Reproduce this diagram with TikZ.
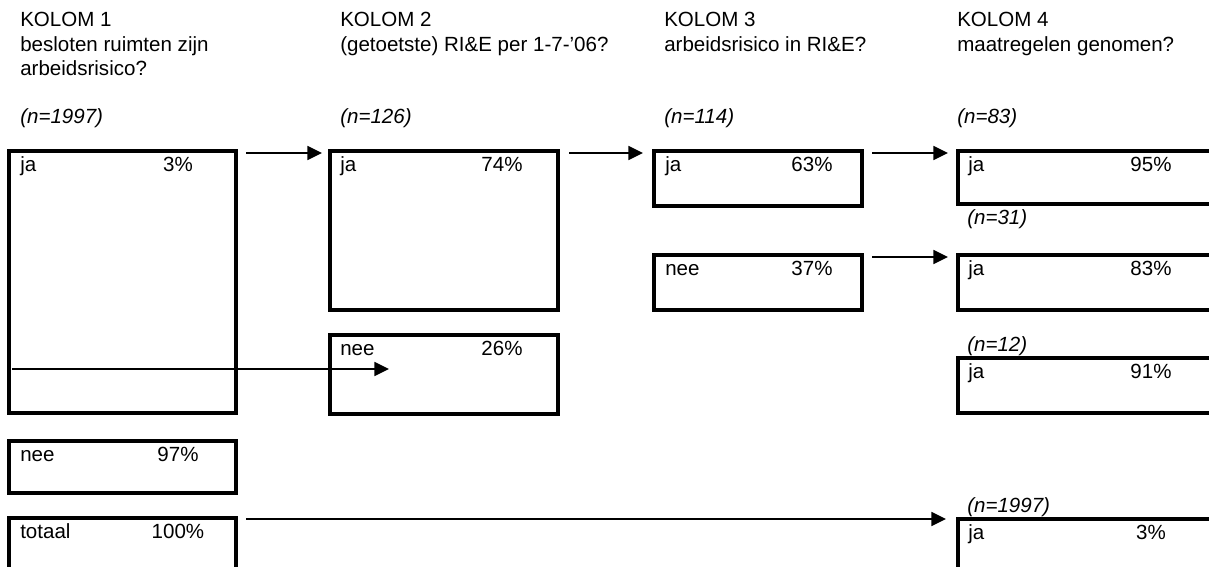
\documentclass[tikz,border=0pt]{standalone}
\usepackage{fontspec}
\setmainfont{Liberation Sans}
\usetikzlibrary{arrows.meta,calc}
\tikzset{
  box/.style={draw, line width=2.5pt, anchor=north west, inner sep=0pt, outer sep=0pt},
  txt/.style={anchor=base west, inner sep=0pt, font=\fontsize{15.4}{18}\selectfont},
  pct/.style={anchor=base, inner sep=0pt, font=\fontsize{15.4}{18}\selectfont},
  nn/.style={txt, font=\fontsize{15.4}{18}\selectfont\itshape},
  arr/.style={line width=1.3pt, -{Triangle[length=11pt,width=10.5pt]}}
}
\begin{document}
\begin{tikzpicture}[x=0.75pt,y=-0.75pt]
\useasboundingbox (0,0) rectangle (1209,567);
\clip (0,0) rectangle (1209,567);

% kolom koppen
\node[txt] (h1a) at (20,27) {KOLOM 1};
\node[txt] (h1b) at (20,51) {besloten ruimten zijn};
\node[txt] (h1c) at (20,75) {arbeidsrisico?};
\node[nn] (n1) at (20,123) {(n=1997)};
\node[txt] (h2a) at (340,27) {KOLOM 2};
\node[txt] (h2b) at (340,51) {(getoetste) RI\&E per 1-7-'06?};
\node[nn] (n2) at (340,123) {(n=126)};
\node[txt] (h3a) at (664,27) {KOLOM 3};
\node[txt] (h3b) at (664,51) {arbeidsrisico in RI\&E?};
\node[nn] (n3) at (664,123) {(n=114)};
\node[txt] (h4a) at (957,27) {KOLOM 4};
\node[txt] (h4b) at (957,51) {maatregelen genomen?};
\node[nn] (n4) at (957,123) {(n=83)};

% kolom 1
\node[box, minimum width=170.25pt, minimum height=196.5pt] (k1ja) at (9,151) {};
\node[txt] (k1jal) at ($(k1ja.north west)+(11,20)$) {ja};
\node[pct] (k1jap) at ($(k1ja.north west)+(169,20)$) {3\%};
\node[box, minimum width=170.25pt, minimum height=39pt] (k1nee) at (9,441) {};
\node[txt] (k1neel) at ($(k1nee.north west)+(11,20)$) {nee};
\node[pct] (k1neep) at ($(k1nee.north west)+(169,20)$) {97\%};
\node[box, minimum width=170.25pt, minimum height=60pt] (k1tot) at (9,518) {};
\node[txt] (k1totl) at ($(k1tot.north west)+(11,20)$) {totaal};
\node[pct] (k1totp) at ($(k1tot.north west)+(169,20)$) {100\%};

% kolom 2
\node[box, minimum width=171pt, minimum height=119.25pt] (k2ja) at (330,151) {};
\node[txt] (k2jal) at ($(k2ja.north west)+(10,20)$) {ja};
\node[pct] (k2jap) at ($(k2ja.north west)+(172,20)$) {74\%};
\node[box, minimum width=171pt, minimum height=59.25pt] (k2nee) at (330,335) {};
\node[txt] (k2neel) at ($(k2nee.north west)+(10,20)$) {nee};
\node[pct] (k2neep) at ($(k2nee.north west)+(172,20)$) {26\%};

% kolom 3
\node[box, minimum width=156pt, minimum height=41.25pt] (k3ja) at (654,151) {};
\node[txt] (k3jal) at ($(k3ja.north west)+(11,20)$) {ja};
\node[pct] (k3jap) at ($(k3ja.north west)+(158,20)$) {63\%};
\node[box, minimum width=156pt, minimum height=41.25pt] (k3nee) at (654,255) {};
\node[txt] (k3neel) at ($(k3nee.north west)+(11,20)$) {nee};
\node[pct] (k3neep) at ($(k3nee.north west)+(158,20)$) {37\%};

% kolom 4
\node[box, minimum width=202.5pt, minimum height=39.75pt] (k4a) at (958,151) {};
\node[txt] (k4al) at ($(k4a.north west)+(10,20)$) {ja};
\node[pct] (k4ap) at ($(k4a.north west)+(193,20)$) {95\%};
\node[nn] (n4b) at (967,224) {(n=31)};
\node[box, minimum width=202.5pt, minimum height=41.25pt] (k4b) at (958,255) {};
\node[txt] (k4bl) at ($(k4b.north west)+(10,20)$) {ja};
\node[pct] (k4bp) at ($(k4b.north west)+(193,20)$) {83\%};
\node[nn] (n4c) at (967,351) {(n=12)};
\node[box, minimum width=202.5pt, minimum height=41.25pt] (k4c) at (958,358) {};
\node[txt] (k4cl) at ($(k4c.north west)+(10,20)$) {ja};
\node[pct] (k4cp) at ($(k4c.north west)+(193,20)$) {91\%};
\node[nn] (n4d) at (967,512) {(n=1997)};
\node[box, minimum width=202.5pt, minimum height=60pt] (k4d) at (958,519) {};
\node[txt] (k4dl) at ($(k4d.north west)+(10,20)$) {ja};
\node[pct] (k4dp) at ($(k4d.north west)+(193,20)$) {3\%};

% pijlen
\draw[arr] ($(k1ja.north east)+(10,2)$) -- ($(k2ja.north west)+(-8,2)$);
\draw[arr] ($(k2ja.north east)+(11,2)$) -- ($(k3ja.north west)+(-11,2)$);
\draw[arr] ($(k3ja.north east)+(10,2)$) -- ($(k4a.north west)+(-10,2)$);
\draw[arr] ($(k3nee.north east)+(10,2)$) -- ($(k4b.north west)+(-10,2)$);
\draw[arr] ($(k1ja.south west)+(3,-44)$) -- ($(k2nee.south west)+(59,-45)$);
\draw[arr] ($(k1tot.north east)+(10,1)$) -- ($(k4d.north west)+(-12,0)$);
\end{tikzpicture}
\end{document}
